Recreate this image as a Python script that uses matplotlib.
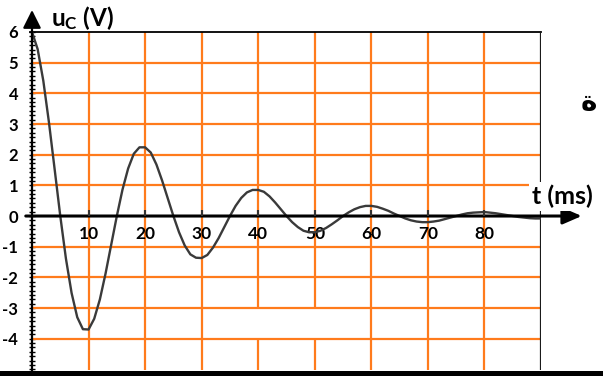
import numpy as np
import matplotlib
matplotlib.use("Agg")
import matplotlib.pyplot as plt
from matplotlib.patches import Rectangle
from matplotlib.ticker import MultipleLocator

plt.rcParams['font.family'] = ['Lato', 'DejaVu Sans']
plt.rcParams['mathtext.fontset'] = 'custom'
plt.rcParams['mathtext.rm'] = 'Lato:bold'
plt.rcParams['mathtext.it'] = 'Lato:bold'
plt.rcParams['mathtext.bf'] = 'Lato:bold'

# ---- data ----
t_ms = list(range(0, 91))
u_c = [6.00, 5.44, 4.41, 3.05, 1.53, 0.00, -1.39, -2.51, -3.30, -3.69,
       -3.70, -3.35, -2.72, -1.88, -0.94, 0.00, 0.86, 1.55, 2.03, 2.24,
       2.24, 2.07, 1.68, 1.16, 0.58, 0.00, -0.53, -0.96, -1.25, -1.36,
       -1.37, -1.27, -1.03, -0.72, -0.36, 0.00, 0.33, 0.59, 0.77, 0.85,
       0.85, 0.79, 0.64, 0.44, 0.22, 0.00, -0.20, -0.36, -0.48, -0.53,
       -0.53, -0.48, -0.39, -0.27, -0.14, 0.00, 0.12, 0.22, 0.29, 0.33,
       0.33, 0.30, 0.24, 0.17, 0.08, 0.00, -0.08, -0.14, -0.18, -0.20,
       -0.20, -0.18, -0.15, -0.10, -0.05, 0.00, 0.05, 0.09, 0.11, 0.12,
       0.13, 0.11, 0.09, 0.06, 0.03, 0.00, -0.03, -0.05, -0.07, -0.08,
       -0.08]
x_ticks = [10, 20, 30, 40, 50, 60, 70, 80]
x_tick_labels = ['10', '20', '30', '40', '50', '60', '70', '80']
y_ticks = [-4, -3, -2, -1, 0, 1, 2, 3, 4, 5, 6]
y_tick_labels = ['-4', '-3', '-2', '-1', '0', '1', '2', '3', '4', '5', '6']
y_grid = [-4, -3, -2, -1, 1, 2, 3, 4, 5]

W, H = 603, 376
fig = plt.figure(figsize=(W / 100, H / 100), dpi=100)
fig.patch.set_facecolor('white')

x0, x1 = 32, 541
y_top, y_bot = 32, 370
ax = fig.add_axes([x0 / W, 1 - y_bot / H, (x1 - x0) / W, (y_bot - y_top) / H])
ppu = 30.67
ymin = 6 - (y_bot - y_top) / ppu
ax.set_xlim(0, 90)
ax.set_ylim(ymin, 6)
for s in ax.spines.values():
    s.set_visible(False)

orange = '#ff7b1c'
for xv in x_ticks:
    ax.axvline(xv, color=orange, lw=1.6, zorder=1)
ax.add_patch(Rectangle((35.5, -4), 19.8, 1, facecolor='white', edgecolor='none', zorder=1.5))
for yv in y_grid:
    ax.axhline(yv, color=orange, lw=1.6, zorder=2)

# borders
ax.plot([-0.3, 90], [6, 6], color='black', lw=1.3, zorder=3, clip_on=False)
ax.axvline(90, color='#1a1a1a', lw=1.6, zorder=3)

# curve
ax.plot(t_ms, u_c, color='#3a3a3a', lw=1.7, zorder=4, solid_capstyle='round',
        solid_joinstyle='round')

# x axis with arrow
ax.annotate('', xy=(97.2, 0), xytext=(-1.1, 0), xycoords='data',
            arrowprops=dict(arrowstyle='-|>,head_length=1.15,head_width=0.5',
                            mutation_scale=10, lw=2.2, color='black',
                            shrinkA=0, shrinkB=0),
            annotation_clip=False, zorder=5)
# y axis with arrow
ax.annotate('', xy=(0, 6 + 22 / ppu), xytext=(0, ymin - 2 / ppu), xycoords='data',
            arrowprops=dict(arrowstyle='-|>,head_length=1.1,head_width=0.55',
                            mutation_scale=10, lw=1.6, color='black',
                            shrinkA=0, shrinkB=0),
            annotation_clip=False, zorder=5)

# small x ticks above axis
ax.vlines(x_ticks, 0, 0.18, color='#333333', lw=1.5, zorder=5)

# y ticks
ax.set_xticks([])
ax.set_yticks(y_ticks)
ax.set_yticklabels(y_tick_labels, fontsize=12, fontweight='bold')
ax.yaxis.set_minor_locator(MultipleLocator(1 / 7))
ax.tick_params(axis='y', which='major', direction='inout', length=5, width=1,
               pad=7.5, colors='black')
ax.tick_params(axis='y', which='minor', direction='inout', length=5, width=1, colors='black')

# x tick labels
for xv, lab in zip(x_ticks, x_tick_labels):
    ax.annotate(lab, xy=(xv, 0), xytext=(0, -13), textcoords='offset points',
                ha='center', va='center', fontsize=12.5, fontweight='bold')

# axis labels
fig.text(51 / W, 1 - 26 / H, r'$\mathrm{u_C}$ (V)', fontsize=17.5, fontweight='bold',
         ha='left', va='baseline')
fig.text(532 / W, 1 - 204 / H, 't (ms)', fontsize=18, fontweight='bold',
         ha='left', va='baseline',
         bbox=dict(facecolor='white', edgecolor='none', pad=2.0))

# arabic fragment at the right edge
fig.text(581 / W, 1 - 110 / H, '\uFE93', fontsize=20, fontweight='bold',
         family=['DejaVu Sans'], ha='left', va='baseline')

# bottom thick line
fig.add_artist(Rectangle((0, 0), 1, 5.5 / H, transform=fig.transFigure,
                         facecolor='black', edgecolor='none'))

fig.savefig('out.png', dpi=100, facecolor='white')
